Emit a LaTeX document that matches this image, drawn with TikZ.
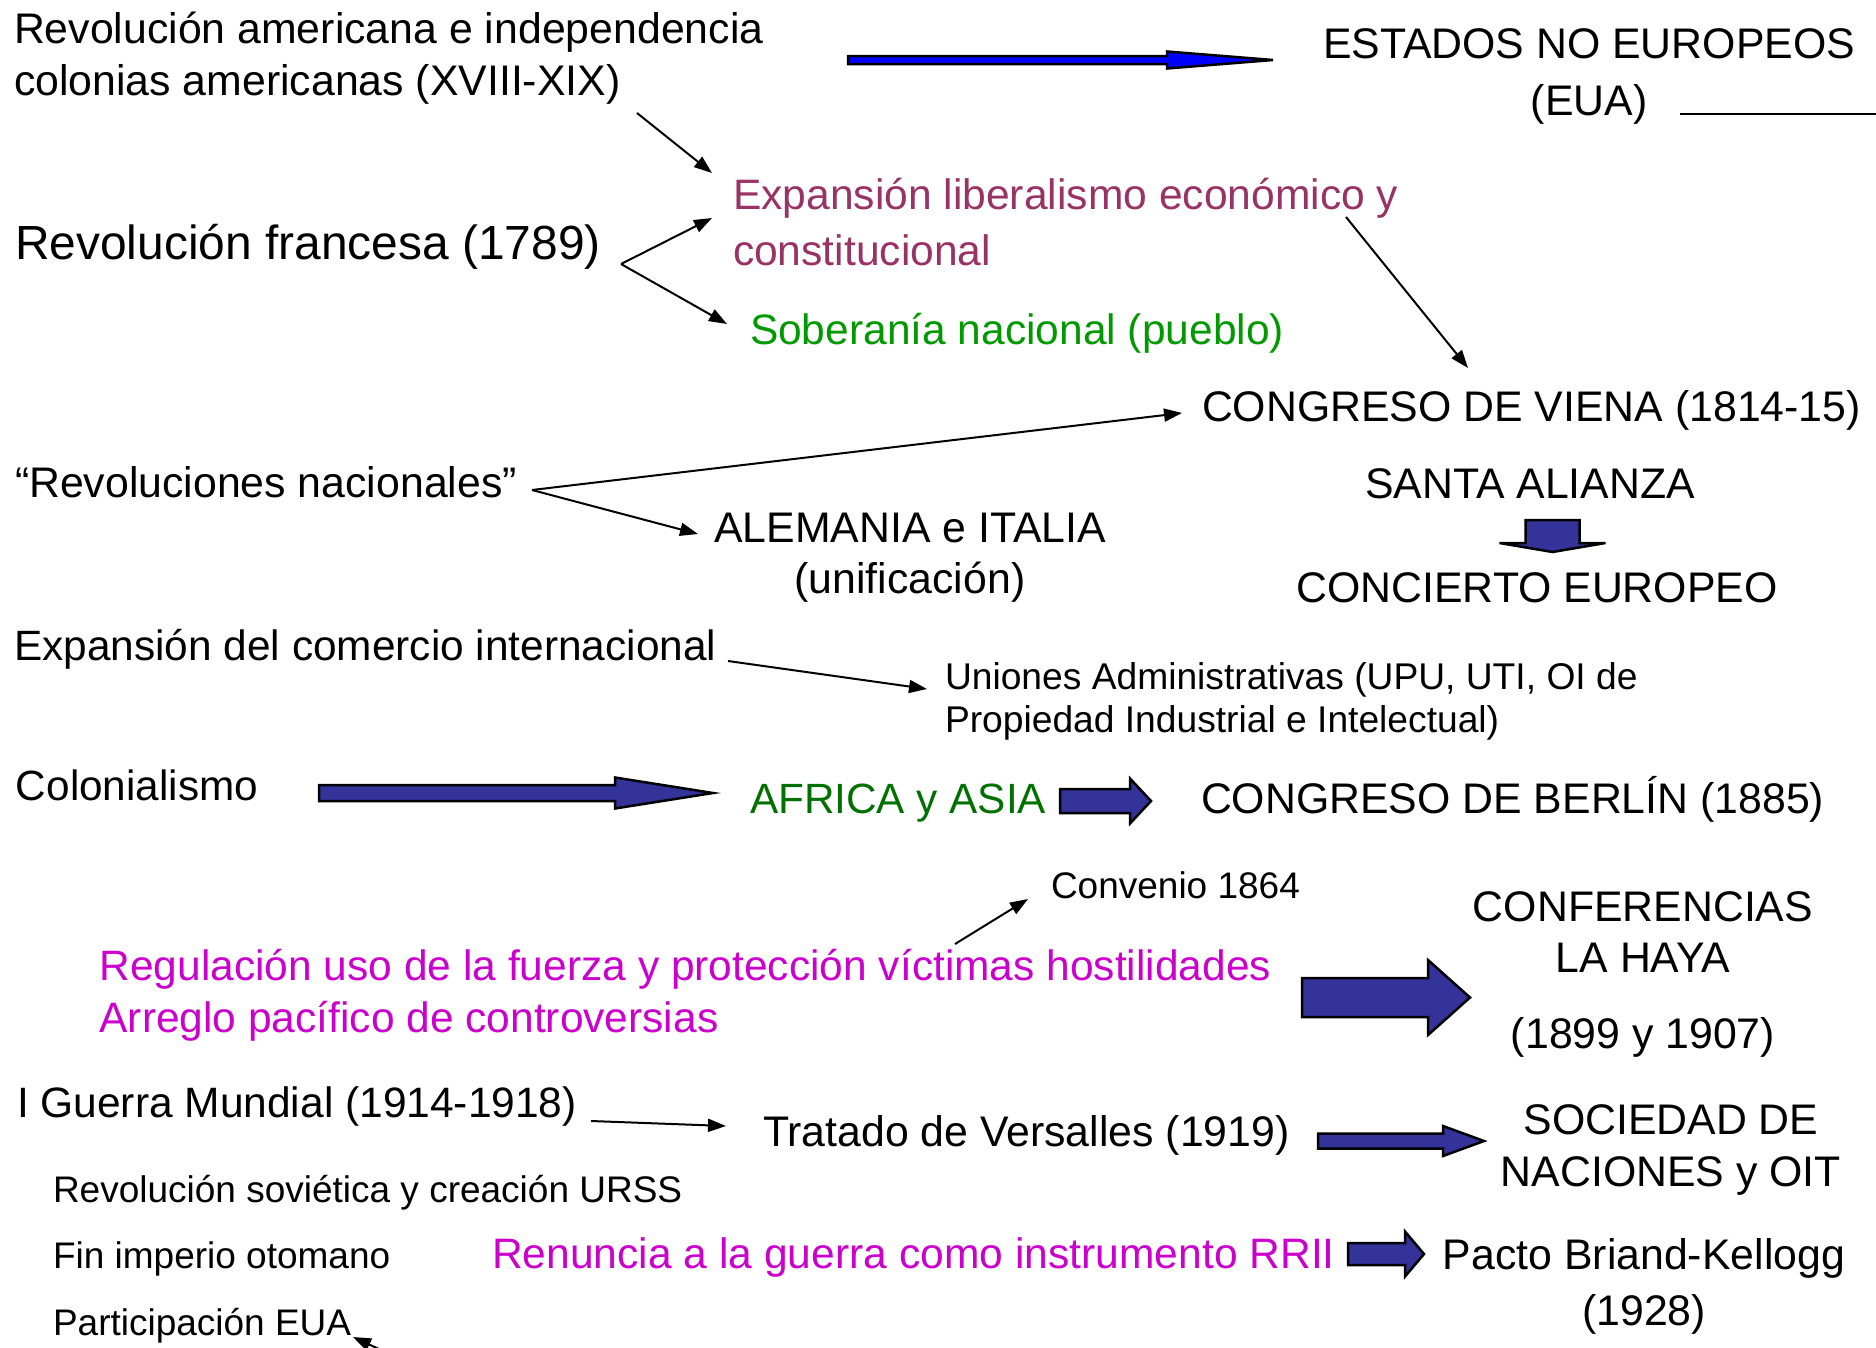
\documentclass[tikz,border=0pt]{standalone}
\usepackage{fontspec}
\setmainfont{Liberation Sans}
\usetikzlibrary{arrows.meta,calc}
\definecolor{liberal}{RGB}{153,51,102}
\definecolor{sobgreen}{RGB}{0,153,0}
\definecolor{afgreen}{RGB}{0,112,0}
\definecolor{magentat}{RGB}{204,0,204}
\definecolor{indigoarrow}{RGB}{51,51,153}
\definecolor{purearrow}{RGB}{0,0,255}
% fill, start, tip, shaft half, head half, head length
\newcommand{\hbarrow}[6]{%
  \filldraw[blockarrow, fill=#1] ($(#2)+(0,-#4)$) -- ($(#3)+(-#6,-#4)$) -- ($(#3)+(-#6,-#5)$) -- (#3) -- ($(#3)+(-#6,#5)$) -- ($(#3)+(-#6,#4)$) -- ($(#2)+(0,#4)$) -- cycle;}
\tikzset{
  lbl/.style={inner sep=0pt, outer sep=0pt},
  conn/.style={line width=2pt, -{Triangle[length=18pt,width=13pt]}},
  blockarrow/.style={line width=2.5pt, draw=black, line join=miter},
}
\begin{document}
\begin{tikzpicture}[x=1pt,y=-1pt]
\fill[white] (0,0) rectangle (1876,1347);
\useasboundingbox (0,0) rectangle (1876,1347);

% ---- text nodes (multi-line nodes: base = baseline of last line) ----
\node[lbl, anchor=base west, align=left, font=\fontsize{42.8}{52}\selectfont] (amer) at (14,95)
  {Revolución americana e independencia\\colonias americanas (XVIII-XIX)};
\node[lbl, anchor=base, align=center, font=\fontsize{42.8}{57}\selectfont] (estados) at (1589,115)
  {ESTADOS NO EUROPEOS\\(EUA)};
\node[lbl, anchor=base west, font=\fontsize{47.9}{56}\selectfont] (francesa) at (15,259)
  {Revolución francesa (1789)};
\node[lbl, anchor=base west, align=left, text=liberal, font=\fontsize{42.6}{56}\selectfont] (expan) at (733,265)
  {Expansión liberalismo económico y\\constitucional};
\node[lbl, anchor=base west, text=sobgreen, font=\fontsize{42.5}{52}\selectfont] (sober) at (750,344)
  {Soberanía nacional (pueblo)};
\node[lbl, anchor=base west, font=\fontsize{42.8}{52}\selectfont] (viena) at (1202,421)
  {CONGRESO DE VIENA (1814-15)};
\node[lbl, anchor=base west, font=\fontsize{42.8}{52}\selectfont] (revnac) at (15,497)
  {“Revoluciones nacionales”};
\node[lbl, anchor=base, align=center, font=\fontsize{42.8}{51}\selectfont] (alemania) at (910,593)
  {ALEMANIA e ITALIA\\(unificación)};
\node[lbl, anchor=base, font=\fontsize{42.8}{52}\selectfont] (santa) at (1530,498)
  {SANTA ALIANZA};
\node[lbl, anchor=base, font=\fontsize{42.8}{52}\selectfont] (concierto) at (1537,602)
  {CONCIERTO EUROPEO};
\node[lbl, anchor=base west, font=\fontsize{42.4}{52}\selectfont] (comercio) at (14,660)
  {Expansión del comercio internacional};
\node[lbl, anchor=base west, align=left, font=\fontsize{37.2}{43}\selectfont] (uniones) at (945,732)
  {Uniones Administrativas (UPU, UTI, OI de\\Propiedad Industrial e Intelectual)};
\node[lbl, anchor=base west, font=\fontsize{42.3}{52}\selectfont] (colon) at (16,800)
  {Colonialismo};
\node[lbl, anchor=base west, text=afgreen, font=\fontsize{42.3}{52}\selectfont] (africa) at (750,813)
  {AFRICA y ASIA};
\node[lbl, anchor=base west, font=\fontsize{42.8}{52}\selectfont] (berlin) at (1201,813)
  {CONGRESO DE BERLÍN (1885)};
\node[lbl, anchor=base west, font=\fontsize{37}{43}\selectfont] (convenio) at (1051,898)
  {Convenio 1864};
\node[lbl, anchor=base west, align=left, text=magentat, font=\fontsize{42.5}{52}\selectfont] (regul) at (99.5,1032)
  {Regulación uso de la fuerza y protección víctimas hostilidades\\Arreglo pacífico de controversias};
\node[lbl, anchor=base, align=center, font=\fontsize{42.8}{51}\selectfont] (haya) at (1643,1048)
  {CONFERENCIAS\\LA HAYA\\[25pt](1899 y 1907)};
\node[lbl, anchor=base west, font=\fontsize{42.5}{52}\selectfont] (guerra) at (17,1117)
  {I Guerra Mundial (1914-1918)};
\node[lbl, anchor=base west, font=\fontsize{42.8}{52}\selectfont] (tratado) at (763,1146)
  {Tratado de Versalles (1919)};
\node[lbl, anchor=base, align=center, font=\fontsize{42.8}{52}\selectfont] (sdn) at (1671,1186)
  {SOCIEDAD DE\\NACIONES y OIT};
\node[lbl, anchor=base west, font=\fontsize{37}{43}\selectfont] (sovietica) at (53,1202)
  {Revolución soviética y creación URSS};
\node[lbl, anchor=base west, font=\fontsize{37}{43}\selectfont] (otomano) at (53,1268)
  {Fin imperio otomano};
\node[lbl, anchor=base west, font=\fontsize{37}{43}\selectfont] (eua2) at (53,1335)
  {Participación EUA};
\node[lbl, anchor=base west, text=magentat, font=\fontsize{42.6}{52}\selectfont] (renuncia) at (492,1268)
  {Renuncia a la guerra como instrumento RRII};
\node[lbl, anchor=base, align=center, font=\fontsize{42.8}{56}\selectfont] (pacto) at (1644,1325)
  {Pacto Briand-Kellogg\\(1928)};

% ---- thin connectors ----
\draw[conn] ($(amer.base west)+(623,18)$) -- ($(expan.base west)+(-21,-92)$);
\draw[conn] ($(francesa.base west)+(606,5)$) -- ($(expan.base west)+(-21,-47)$);
\draw[conn] ($(francesa.base west)+(606,5)$) -- ($(sober.base west)+(-23,-20)$);
\draw[conn] ($(expan.base west)+(613,-48)$) -- ($(viena.base west)+(266,-53)$);
\draw[conn] ($(revnac.base west)+(517,-7)$) -- ($(viena.base west)+(-20,-8)$);
\draw[conn] ($(revnac.base west)+(517,-7)$) -- ($(alemania.base)+(-212,-59)$);
\draw[conn] ($(comercio.base west)+(714,1)$) -- ($(uniones.base west)+(-18,-43)$);
\draw[conn] ($(regul.base west)+(855.5,-88)$) -- ($(convenio.base west)+(-23,1)$);
\draw[conn] ($(guerra.base west)+(574,4)$) -- ($(tratado.base west)+(-37,-20)$);

\begin{scope}
  \clip (0,0) rectangle (1876,1347);
  \coordinate (euaout) at ($(estados.base)+(400,-1)$);
  \draw[line width=2.5pt] ($(estados.base)+(91,-1)$) -- (euaout);
  \coordinate (euain) at ($(eua2.base west)+(367,33)$);
  \draw[conn] (euain) -- ($(eua2.base west)+(300,2)$);
\end{scope}

% ---- block arrows ----
\coordinate (b1s) at ($(amer.base west)+(834,-35)$);
\coordinate (b1t) at ($(estados.base)+(-316,-55)$);
\hbarrow{purearrow}{b1s}{b1t}{4}{8.5}{106}
\coordinate (b2s) at ($(colon.base west)+(303,-7)$);
\coordinate (b2t) at ($(africa.base west)+(-37,-20)$);
\hbarrow{indigoarrow}{b2s}{b2t}{8}{15.5}{98}
\coordinate (b3s) at ($(africa.base west)+(310,-12)$);
\coordinate (b3t) at ($(berlin.base west)+(-50,-12)$);
\hbarrow{indigoarrow}{b3s}{b3t}{12}{22.5}{21}
\coordinate (b5s) at ($(regul.base west)+(1202.5,-34.5)$);
\coordinate (b5t) at ($(haya.base)+(-173,-50.5)$);
\hbarrow{indigoarrow}{b5s}{b5t}{19.5}{37.5}{42}
\coordinate (b6s) at ($(tratado.base west)+(555,-5)$);
\coordinate (b6t) at ($(sdn.base)+(-187,-45)$);
\hbarrow{indigoarrow}{b6s}{b6t}{7.5}{15}{41}
\coordinate (b7s) at ($(renuncia.base west)+(856,-14)$);
\coordinate (b7t) at ($(pacto.base)+(-220,-71)$);
\hbarrow{indigoarrow}{b7s}{b7t}{11}{22.5}{19}

% down arrow Santa Alianza -> Concierto
\coordinate (b4s) at ($(santa.base)+(22.5,22)$);
\coordinate (b4t) at ($(concierto.base)+(15.5,-50)$);
\filldraw[blockarrow, fill=indigoarrow] ($(b4s)+(-27,0)$) -- ($(b4s)+(27,0)$) -- ($(b4t)+(27,-9)$) -- ($(b4t)+(53,-9)$) -- (b4t) -- ($(b4t)+(-53,-9)$) -- ($(b4t)+(-27,-9)$) -- cycle;
\end{tikzpicture}
\end{document}
